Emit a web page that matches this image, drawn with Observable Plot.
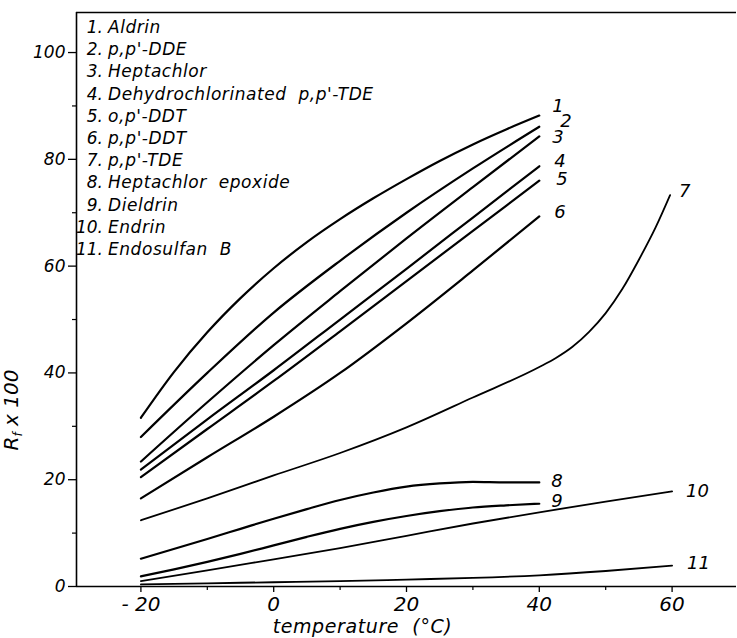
<!DOCTYPE html>
<html>
<head>
<meta charset="utf-8">
<script src="https://cdn.jsdelivr.net/npm/d3@7"></script>
<script src="https://cdn.jsdelivr.net/npm/@observablehq/plot@0.6"></script>
<style>
  html, body { margin: 0; padding: 0; background: #fff; }
  #chart { position: relative; width: 737px; height: 638px; }
  #legend {
    position: absolute; left: 75px; top: 16px;
    font-family: "DejaVu Sans"; font-style: italic; font-size: 17px;
    letter-spacing: 0.55px;
    line-height: 22.2px; color: #000;
    display: grid; grid-template-columns: 28px auto; column-gap: 5px;
  }
  #legend .n { text-align: right; letter-spacing: 0; }
  #legend .t { white-space: pre; }
</style>
</head>
<body>
<div id="chart"><div id="legend"></div></div>
<script>
// ---------- data ----------
const curveIds = ["1", "2", "3", "4", "5", "6", "7", "8", "9", "10", "11"];
const compoundNames = [
  "Aldrin", "p,p'-DDE", "Heptachlor", "Dehydrochlorinated  p,p'-TDE",
  "o,p'-DDT", "p,p'-DDT", "p,p'-TDE", "Heptachlor  epoxide",
  "Dieldrin", "Endrin", "Endosulfan  B"
];

const temps1 = [-20, -15, -10, -5, 0, 5, 10, 15, 20, 25, 30, 35, 40];
const rf1    = [31.6, 40.2, 47.6, 54.0, 59.6, 64.5, 68.8, 72.7, 76.3, 79.7, 82.8, 85.6, 88.2];
const temps2 = [-20, -10, 0, 10, 20, 30, 40];
const rf2    = [28.0, 40.0, 51.3, 61.0, 70.0, 78.3, 86.1];
const temps3 = [-20, -10, 0, 10, 20, 30, 40];
const rf3    = [23.4, 34.5, 45.2, 55.3, 65.2, 74.8, 84.3];
const temps4 = [-20, -10, 0, 10, 20, 30, 40];
const rf4    = [21.9, 31.3, 40.5, 50.0, 59.5, 69.1, 78.7];
const temps5 = [-20, -10, 0, 10, 20, 30, 40];
const rf5    = [20.5, 29.5, 38.5, 47.8, 57.2, 66.6, 76.0];
const temps6 = [-20, -10, 0, 10, 20, 30, 40];
const rf6    = [16.5, 24.2, 31.8, 40.0, 49.3, 59.2, 69.3];
const temps7 = [-20, -10, 0, 10, 20, 30, 40, 42.5, 45, 47.5, 50, 52.5, 55, 57.5, 59.7];
const rf7    = [12.4, 16.5, 20.8, 25.0, 29.8, 35.4, 41.1, 42.8, 44.9, 47.7, 51.2, 55.7, 61.2, 67.2, 73.3];
const temps8 = [-20, -10, -5, 0, 5, 10, 15, 20, 25, 30, 35, 40];
const rf8    = [5.2, 8.9, 10.8, 12.7, 14.5, 16.2, 17.6, 18.7, 19.3, 19.6, 19.5, 19.5];
const temps9 = [-20, -15, -10, -5, 0, 5, 10, 15, 20, 25, 30, 35, 40];
const rf9    = [1.9, 3.2, 4.6, 6.1, 7.7, 9.3, 10.8, 12.1, 13.2, 14.1, 14.8, 15.2, 15.5];
const temps10 = [-20, -10, 0, 10, 20, 30, 40, 50, 60];
const rf10    = [1.0, 3.0, 5.1, 7.2, 9.5, 11.8, 13.9, 15.9, 17.8];
const temps11 = [-20, -10, 0, 10, 20, 30, 40, 50, 60];
const rf11    = [0.4, 0.6, 0.8, 1.0, 1.3, 1.6, 2.1, 2.9, 3.9];

const xMajorTicks = [-20, 0, 20, 40, 60];
const xMinorTicks = [-10, 10, 30, 50, 70];
const yMajorTicks = [0, 20, 40, 60, 80, 100];
const yMinorTicks = [10, 30, 50, 70, 90];
const xAxisTitle = "temperature  (°C)";

// ---------- layout / style (not data) ----------
const xDomain = [-29.7, 69.7];
const yDomain = [0, 107.5];
const thinCurves = new Set(["7", "10", "11"]);
const labelDx = [13, 21, 13, 15, 17, 15, 9, 12, 12, 14, 15];
const labelDy = [-9, -6, 1, -5, -1, -4, -4, -1, -3, 0, -2];

// ---------- build ----------
const allTemps = [temps1, temps2, temps3, temps4, temps5, temps6, temps7, temps8, temps9, temps10, temps11];
const allRf = [rf1, rf2, rf3, rf4, rf5, rf6, rf7, rf8, rf9, rf10, rf11];
const rows = [];
curveIds.forEach((id, i) => allTemps[i].forEach((t, j) => rows.push({id, temp: t, rf: allRf[i][j]})));
const ends = curveIds.map((id, i) => ({id, temp: allTemps[i][allTemps[i].length - 1], rf: allRf[i][allRf[i].length - 1]}));

const font = "DejaVu Sans";
const plot = Plot.plot({
  width: 737,
  height: 638,
  marginLeft: 76,
  marginRight: 1,
  marginTop: 12,
  marginBottom: 52,
  style: {fontFamily: font, fontStyle: "italic", background: "#fff", color: "#000"},
  x: {domain: xDomain},
  y: {domain: yDomain},
  marks: [
    Plot.ruleX([xDomain[0]], {stroke: "#000", strokeWidth: 1.6}),
    Plot.ruleY([yDomain[0]], {stroke: "#000", strokeWidth: 1.6}),
    Plot.ruleY([yDomain[1]], {stroke: "#000", strokeWidth: 1.3}),
    Plot.axisX({ticks: xMajorTicks, tickSize: 6, tickPadding: 4, fontSize: 20, label: null,
      tickFormat: d => d < 0 ? "- " + Math.abs(d) : String(d), strokeWidth: 1.3}),
    Plot.axisX({ticks: xMinorTicks, tickSize: 4, tickFormat: () => "", label: null, strokeWidth: 1.2}),
    Plot.axisY({ticks: yMajorTicks, tickSize: 8, tickPadding: 3, fontSize: 17, label: null, strokeWidth: 1.3}),
    Plot.axisY({ticks: yMinorTicks, tickSize: 4, tickFormat: () => "", label: null, strokeWidth: 1.2}),
    Plot.line(rows.filter(d => !thinCurves.has(d.id)), {x: "temp", y: "rf", z: "id", stroke: "#000", strokeWidth: 2.2, curve: "monotone-x"}),
    Plot.line(rows.filter(d => thinCurves.has(d.id)), {x: "temp", y: "rf", z: "id", stroke: "#000", strokeWidth: 1.8, curve: "monotone-x"}),
    ...ends.map((e, i) => Plot.text([e], {x: "temp", y: "rf", text: "id", textAnchor: "start",
      dx: labelDx[i], dy: labelDy[i], fontSize: 18, fill: "#000"})),
    Plot.text([xAxisTitle], {text: d => d, frameAnchor: "bottom", dx: -44, dy: 40, fontSize: 19,
      fill: "#000", lineAnchor: "middle"})
  ]
});

document.getElementById("chart").appendChild(plot);

// x-axis title letter spacing
d3.select(plot).selectAll("text").filter(function() { return this.textContent === xAxisTitle; })
  .attr("letter-spacing", 0.6);

// y-axis title with subscript
const svg = d3.select(plot);
const yt = svg.append("text")
  .attr("transform", "translate(18,410) rotate(-90)")
  .attr("text-anchor", "middle")
  .attr("font-family", font)
  .attr("font-style", "italic")
  .attr("font-size", 20)
  .attr("fill", "#000");
yt.append("tspan").text("R");
yt.append("tspan").attr("font-size", 12).attr("dy", 4).text("f");
yt.append("tspan").attr("dy", -4).text(" x 100");

// legend
const legend = d3.select("#legend");
curveIds.forEach((id, i) => {
  legend.append("div").attr("class", "n").text(id + ".");
  legend.append("div").attr("class", "t").text(compoundNames[i]);
});
</script>
</body>
</html>
